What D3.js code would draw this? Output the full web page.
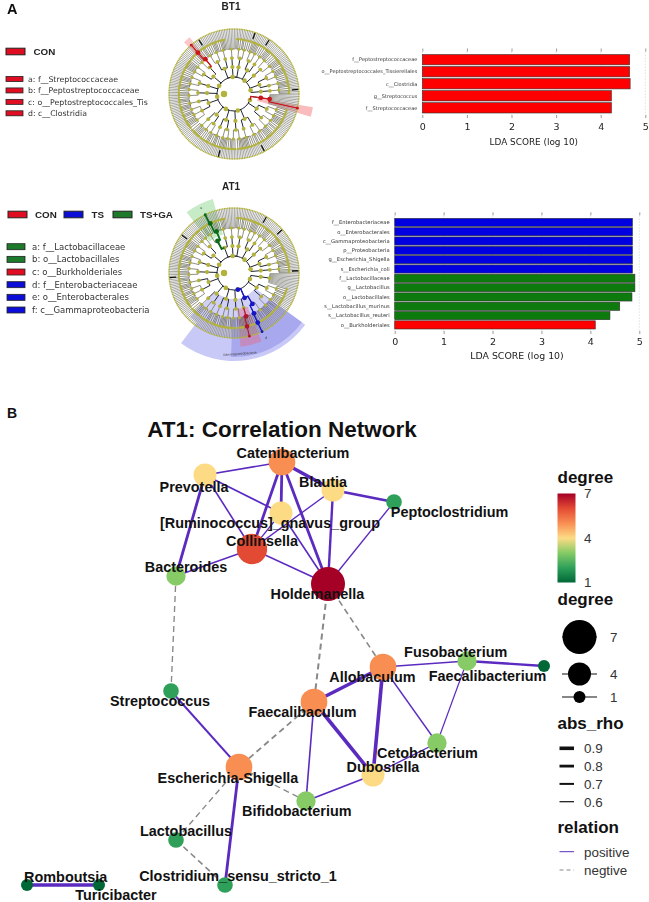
<!DOCTYPE html>
<html>
<head>
<meta charset="utf-8">
<script src="https://cdn.jsdelivr.net/npm/d3@7"></script>
<style>
  html, body { margin: 0; padding: 0; background: #fff; }
  svg { display: block; }
  text { font-family: "Liberation Sans", Arial, sans-serif; }
  .mpl text, text.mpl { font-family: "DejaVu Sans", sans-serif; }
</style>
</head>
<body>
<svg id="chart" width="649" height="902"></svg>
<script>
// panel A, LDA bars
const bt1Taxa = ["f__Peptostreptococcaceae", "o__Peptostreptococcales_Tissierellales", "c__Clostridia", "g__Streptococcus", "f__Streptococcaceae"];
const bt1Scores = [4.65, 4.65, 4.66, 4.24, 4.24];
const bt1Groups = ["CON", "CON", "CON", "CON", "CON"];

const at1Taxa = ["f__Enterobacteriaceae", "o__Enterobacterales", "c__Gammaproteobacteria", "p__Proteobacteria", "g__Escherichia_Shigella", "s__Escherichia_coli",
  "f__Lactobacillaceae", "g__Lactobacillus", "o__Lactobacillales", "s__Lactobacillus_murinus", "s__Lactobacillus_reuteri", "o__Burkholderiales"];
const at1Scores = [4.86, 4.86, 4.86, 4.86, 4.86, 4.86, 4.91, 4.91, 4.85, 4.6, 4.4, 4.1];
const at1Groups = ["TS", "TS", "TS", "TS", "TS", "TS", "TS+GA", "TS+GA", "TS+GA", "TS+GA", "TS+GA", "CON"];

const ldaTicks = [0, 1, 2, 3, 4, 5];

// panel A, cladogram legends
const bt1CladeKeys = ["a: f__Streptococcaceae", "b: f__Peptostreptococcaceae", "c: o__Peptostreptococcales_Tis", "d: c__Clostridia"];
const bt1CladeGroups = ["CON", "CON", "CON", "CON"];
const at1CladeKeys = ["a: f__Lactobacillaceae", "b: o__Lactobacillales", "c: o__Burkholderiales", "d: f__Enterobacteriaceae", "e: o__Enterobacterales", "f: c__Gammaproteobacteria"];
const at1CladeGroups = ["TS+GA", "TS+GA", "CON", "TS", "TS", "TS"];

// taxonomy of the cladogram: nested arrays, a number is a clade with that many leaf taxa
const cladeTree = [
  [[11], [[[1, 2, 1, 1], [2, 1, 1, 1, 1]], [[1, 1, 2, 1], [1, 2, 1, 1, 1, 1]]]],
  [[[[1, 1, 2, 1, 1], [2, 1, 1, 2]], [[1, 2, 1, 1, 1, 1, 1]]], [[[1, 1, 1, 2], [2, 1, 1]]]],
  [[[[1, 2, 1, 1, 1], [1, 1, 1]], [[2, 1, 1, 1, 2, 1]]], [[[1, 1, 2], [1, 2, 1, 1]], [[1, 1, 1, 1, 2]]]],
  [[[[2, 1, 1, 1], [1, 1, 2, 1, 1], [1, 2, 1]], [[1, 1, 1, 2, 1, 1]]], [[[1, 2, 1, 1, 1], [2, 1, 1]]]],
  [[[[1, 1, 2, 1, 1, 1], [1, 2, 1]]], [[[2, 1, 1, 1, 1], [1, 1, 1, 2]], [[1, 2, 1, 1], [1, 1, 2]]]],
  [[[[1, 1, 1, 2, 1], [2, 1, 1, 1]], [[1, 2, 1, 1, 1, 1]]], [[8]], [[[1, 1, 2, 1], [1, 2, 1]]]],
  [[[[2, 1, 1, 1, 1], [1, 1, 2]], [[1, 2, 1, 1]]], [[[1, 1, 1, 2, 1], [2, 1, 1, 1, 1]]]],
  [[[[1, 2, 1, 1], [1, 1, 1, 2, 1]], [[2, 1, 1, 1]]], [[[1, 1, 2, 1, 1, 1]]]]
];

// panel B, network
const genera = ["Catenibacterium", "Prevotella", "Blautia", "Peptoclostridium", "[Ruminococcus]_gnavus_group", "Collinsella", "Bacteroides", "Holdemanella",
  "Allobaculum", "Fusobacterium", "Faecalibacterium", "Streptococcus", "Faecalibaculum", "Cetobacterium", "Dubosiella", "Escherichia-Shigella",
  "Bifidobacterium", "Lactobacillus", "Clostridium_sensu_stricto_1", "Romboutsia", "Turicibacter"];
const layoutX = [255, 178, 306, 367, 254, 225, 149, 301, 356, 440, 517, 144, 287, 410, 346, 212, 279, 149, 198, 0, 72];
const layoutY = [423, 410, 395, 383, 372, 336, 309, 301, 218, 224, 219, 194, 183, 142, 110, 118, 84, 45, 0, 0, 0];

const edgeFrom = ["Prevotella", "Prevotella", "Prevotella", "Prevotella", "Catenibacterium", "Catenibacterium", "Catenibacterium", "Catenibacterium",
  "Blautia", "Blautia", "Blautia", "Peptoclostridium", "[Ruminococcus]_gnavus_group", "[Ruminococcus]_gnavus_group", "Collinsella", "Collinsella",
  "Bacteroides", "Holdemanella", "Holdemanella", "Allobaculum", "Allobaculum", "Allobaculum", "Allobaculum", "Fusobacterium", "Fusobacterium",
  "Cetobacterium", "Faecalibaculum", "Faecalibaculum", "Faecalibaculum", "Dubosiella", "Streptococcus", "Escherichia-Shigella", "Escherichia-Shigella", "Escherichia-Shigella", "Lactobacillus", "Romboutsia"];
const edgeTo = ["Catenibacterium", "Bacteroides", "Collinsella", "[Ruminococcus]_gnavus_group", "Blautia", "[Ruminococcus]_gnavus_group", "Collinsella", "Holdemanella",
  "Peptoclostridium", "Holdemanella", "Collinsella", "Holdemanella", "Holdemanella", "Collinsella", "Holdemanella", "Bacteroides",
  "Streptococcus", "Faecalibaculum", "Allobaculum", "Faecalibaculum", "Dubosiella", "Cetobacterium", "Fusobacterium", "Faecalibacterium", "Cetobacterium",
  "Dubosiella", "Dubosiella", "Bifidobacterium", "Escherichia-Shigella", "Bifidobacterium", "Escherichia-Shigella", "Bifidobacterium", "Lactobacillus", "Clostridium_sensu_stricto_1", "Clostridium_sensu_stricto_1", "Turicibacter"];
const edgeRho = [0.65, 0.8, 0.65, 0.65, 0.9, 0.8, 0.8, 0.8,
  0.8, 0.75, 0.62, 0.62, 0.65, 0.62, 0.65, 0.62,
  0.62, 0.7, 0.65, 0.9, 0.9, 0.62, 0.65, 0.75, 0.6,
  0.62, 0.9, 0.65, 0.68, 0.68, 0.7, 0.6, 0.62, 0.8, 0.65, 0.9];
const edgeRelation = ["positive", "positive", "positive", "positive", "positive", "positive", "positive", "positive",
  "positive", "positive", "positive", "positive", "positive", "positive", "positive", "positive",
  "negtive", "negtive", "negtive", "positive", "positive", "positive", "positive", "positive", "positive",
  "positive", "positive", "positive", "negtive", "positive", "positive", "negtive", "negtive", "positive", "negtive", "positive"];

const degreeLevels = [1, 2, 3, 4, 5, 6, 7];
const degreeColors = ["#006837", "#2fa05a", "#86cb66", "#fddb85", "#f98e52", "#e34a33", "#a50026"];
const sizeLegend = [7, 4, 1];
const rhoLegend = [0.9, 0.8, 0.7, 0.6];
const relationLegend = ["positive", "negtive"];

const svg = d3.select("#chart");
const groupColor = d3.scaleOrdinal().domain(["CON", "TS", "TS+GA"]).range(["#ff0000", "#0000e0", "#0a7a0a"]);
const swatchColor = d3.scaleOrdinal().domain(["CON", "TS", "TS+GA"]).range(["#e01020", "#0a10d8", "#1a7a2a"]);

// soft edges, the panel A artwork is a small raster in the source
const defs = svg.append("defs");
defs.append("filter").attr("id", "soft").append("feGaussianBlur").attr("stdDeviation", 0.45);
defs.append("filter").attr("id", "softer").append("feGaussianBlur").attr("stdDeviation", 0.2);

const panelA = svg.append("g").attr("filter", "url(#softer)");
const panelB = svg.append("g");

function drawLdaBars(taxa, scores, groups, box) {
  const x = d3.scaleLinear().domain([0, 5]).range([box.x0, box.x1]);
  const y = d3.scaleBand().domain(taxa).range([box.y0, box.y1]).paddingInner(box.pad);
  const g = panelA.append("g").attr("class", "mpl");

  g.append("g").selectAll("line").data(ldaTicks).join("line")
    .attr("x1", d => x(d)).attr("x2", d => x(d))
    .attr("y1", box.y0 - 3).attr("y2", box.y1 + 2)
    .attr("stroke", "#ccc").attr("stroke-width", 0.6).attr("stroke-dasharray", "1.5,1.5");

  g.append("g").selectAll("rect").data(taxa).join("rect")
    .attr("x", x(0))
    .attr("y", d => y(d))
    .attr("width", (d, i) => x(scores[i]) - x(0))
    .attr("height", y.bandwidth())
    .attr("fill", (d, i) => groupColor(groups[i]))
    .attr("stroke", "#333").attr("stroke-width", 0.6);

  g.append("g").selectAll("text").data(taxa).join("text")
    .attr("x", x(0) - 5)
    .attr("y", d => y(d) + y.bandwidth() / 2)
    .attr("dy", "0.35em")
    .attr("text-anchor", "end")
    .attr("font-size", box.labelSize)
    .attr("fill", "#333")
    .text(d => d);

  const top = g.append("g").attr("transform", `translate(0,${box.y0 - 3})`)
    .call(d3.axisTop(x).tickValues(ldaTicks).tickSize(3).tickFormat(""));
  top.select(".domain").remove();
  const bottom = g.append("g").attr("transform", `translate(0,${box.y1 + 2})`)
    .call(d3.axisBottom(x).tickValues(ldaTicks).tickSize(3).tickPadding(box.tickPad).tickFormat(d3.format("d")));
  bottom.select(".domain").remove();
  bottom.selectAll("text").attr("font-size", box.tickSize).attr("fill", "#222").attr("font-family", "DejaVu Sans");
  g.selectAll(".tick line").attr("stroke", "#555").attr("stroke-width", 0.6);

  g.append("text")
    .attr("x", (x(0) + x(5)) / 2)
    .attr("y", box.titleY)
    .attr("text-anchor", "middle")
    .attr("font-size", box.titleSize)
    .attr("fill", "#222")
    .text("LDA SCORE (log 10)");
}

// cladogram
const rings = [10, 17, 27, 36, 45, 55];
const outerRing = 65;
const toRad = Math.PI / 180;

function drawCladogram(cx, cy, opts) {
  const root = d3.hierarchy(cladeTree, d => Array.isArray(d) ? d : (d > 0 ? d3.range(d).map(() => 0) : null));
  d3.cluster().size([360, 1]).separation(() => 1)(root);
  const radius = d => d.children ? rings[d.depth] : outerRing;
  const px = (angle, r) => [cx + r * Math.cos(angle * toRad), cy + r * Math.sin(angle * toRad)];
  const g = panelA.append("g");
  const art = g.append("g").attr("filter", "url(#soft)");

  const sectorArc = d3.arc();
  art.append("g").selectAll("path").data(opts.sectors).join("path")
    .attr("transform", `translate(${cx},${cy})`)
    .attr("fill", d => d.color)
    .attr("fill-opacity", d => d.opacity)
    .attr("d", d => sectorArc({
      innerRadius: d.r0, outerRadius: d.r1,
      startAngle: (d.a0 + 90) * toRad, endAngle: (d.a1 + 90) * toRad
    }));

  const nodes = root.descendants().filter(d => d.depth > 0);

  function linkPath(d) {
    if (d.parent.depth === 0) return "";
    const p = d3.path();
    const pr = radius(d.parent);
    const a = d.parent.x * toRad, b = d.x * toRad;
    p.moveTo(cx + pr * Math.cos(a), cy + pr * Math.sin(a));
    p.arc(cx, cy, pr, a, b, b < a);
    const [ex, ey] = px(d.x, radius(d));
    p.lineTo(ex, ey);
    return p.toString();
  }

  // leaf spokes first, they make the grey band
  art.append("g").selectAll("path").data(nodes.filter(d => !d.children)).join("path")
    .attr("d", linkPath).attr("fill", "none").attr("stroke", "#8a8a84").attr("stroke-width", 0.75);
  art.append("g").selectAll("path").data(nodes.filter(d => d.children && d.depth > 1)).join("path")
    .attr("d", linkPath).attr("fill", "none")
    .attr("stroke", d => d.depth < 4 ? "#1f2433" : "#6a6a5c")
    .attr("stroke-width", d => d.depth < 4 ? 1 : 0.75);

  // innermost ring joining the phyla
  art.append("path")
    .attr("fill", "none").attr("stroke", "#1f2433").attr("stroke-width", 1)
    .attr("d", () => {
      const p = d3.path();
      const kids = root.children;
      const a = kids[0].x * toRad, b = kids[kids.length - 1].x * toRad;
      p.moveTo(cx + rings[1] * Math.cos(a), cy + rings[1] * Math.sin(a));
      p.arc(cx, cy, rings[1], a, b);
      return p.toString();
    });

  art.append("g").selectAll("line").data(opts.darkSpokes).join("line")
    .attr("x1", d => px(d, 58)[0]).attr("y1", d => px(d, 58)[1])
    .attr("x2", d => px(d, outerRing)[0]).attr("y2", d => px(d, outerRing)[1])
    .attr("stroke", "#111").attr("stroke-width", 1.3);

  const dotR = [3.2, 2.3, 2.1, 1.9, 1.6, 1.2, 0.8];
  art.append("g").selectAll("circle").data(root.descendants()).join("circle")
    .attr("cx", d => d.depth === 0 ? cx - rings[0] : px(d.x, radius(d))[0])
    .attr("cy", d => d.depth === 0 ? cy : px(d.x, radius(d))[1])
    .attr("r", d => d.children ? dotR[d.depth] : 0.8)
    .attr("fill", "#b2b23c");

  // biomarker clades, walked from a leaf up the tree
  opts.biomarkers.forEach(mark => {
    const leaf = d3.least(root.leaves(), d => Math.abs(d.x - mark.angle));
    const chain = leaf.ancestors().filter(d => d.depth > mark.fromDepth);
    art.append("g").selectAll("path").data(chain).join("path")
      .attr("d", linkPath).attr("fill", "none").attr("stroke", mark.color).attr("stroke-width", mark.width);
    art.append("g").selectAll("circle").data(chain).join("circle")
      .attr("cx", d => px(d.x, radius(d))[0])
      .attr("cy", d => px(d.x, radius(d))[1])
      .attr("r", d => d.children ? 2.4 : 1.4)
      .attr("fill", mark.color);
  });

  // sector letters and the one readable clade name
  g.append("g").selectAll("text").data(opts.tags).join("text")
    .attr("transform", d => {
      const [tx, ty] = px(d.angle, d.r);
      return `translate(${tx},${ty}) rotate(${d.rotate || 0})`;
    })
    .attr("text-anchor", "middle")
    .attr("font-size", d => d.size)
    .attr("fill", "#444")
    .text(d => d.text);
}

function drawKeyRows(keys, groups, o) {
  const g = panelA.append("g");
  const y = d3.scalePoint().domain(keys).range([o.y0, o.y1]);
  g.selectAll("rect").data(keys).join("rect")
    .attr("x", o.x).attr("y", d => y(d) - o.h / 2)
    .attr("width", o.w).attr("height", o.h)
    .attr("fill", (d, i) => swatchColor(groups[i]))
    .attr("stroke", "#222").attr("stroke-width", 0.8);
  g.selectAll("text").data(keys).join("text")
    .attr("class", "mpl")
    .attr("x", o.x + o.w + o.gap).attr("y", d => y(d))
    .attr("dy", "0.35em")
    .attr("font-size", o.size)
    .attr("fill", "#333")
    .text(d => d);
}

function drawGroupKey(items, y) {
  const g = panelA.append("g");
  items.forEach(it => {
    g.append("rect").attr("x", it.x).attr("y", y - 3.3).attr("width", 19).attr("height", 6.6)
      .attr("fill", swatchColor(it.name)).attr("stroke", "#222").attr("stroke-width", 1);
    g.append("text").attr("x", it.tx).attr("y", y).attr("dy", "0.36em")
      .attr("font-size", 9.8).attr("font-weight", "bold").attr("fill", "#222").text(it.name);
  });
}

panelA.append("text").attr("x", 7).attr("y", 14).attr("font-size", 14.5).attr("font-weight", "bold").attr("fill", "#111").text("A");
panelA.append("text").attr("x", 231).attr("y", 10).attr("text-anchor", "middle").attr("font-size", 10).attr("font-weight", "bold").attr("fill", "#222").text("BT1");
panelA.append("text").attr("x", 231).attr("y", 189.5).attr("text-anchor", "middle").attr("font-size", 10).attr("font-weight", "bold").attr("fill", "#222").text("AT1");

drawGroupKey([{ name: "CON", x: 6, tx: 33.5 }], 51.5);
drawKeyRows(bt1CladeKeys, bt1CladeGroups, { x: 6, w: 17, h: 5, gap: 5, y0: 79, y1: 113.3, size: 7.8 });
drawGroupKey([{ name: "CON", x: 8, tx: 35 }, { name: "TS", x: 64, tx: 91.5 }, { name: "TS+GA", x: 113, tx: 140 }], 214.5);
drawKeyRows(at1CladeKeys, at1CladeGroups, { x: 7, w: 18, h: 6, gap: 7, y0: 246.7, y1: 310, size: 8.5 });

drawCladogram(234, 94, {
  sectors: [
    { a0: 9.5, a1: 16.5, r0: 24, r1: 80, color: "#f06060", opacity: 0.42 },
    { a0: 226, a1: 232, r0: 44, r1: 72, color: "#f06060", opacity: 0.35 }
  ],
  darkSpokes: [237, 289, 303, 356, 62, 104],
  biomarkers: [
    { angle: 13, color: "#c8141c", width: 1.3, fromDepth: 1 },
    { angle: 229, color: "#c8141c", width: 1.3, fromDepth: 3 }
  ],
  tags: []
});

drawCladogram(234, 273, {
  sectors: [
    { a0: 36, a1: 127, r0: 62, r1: 88, color: "#b4b4f4", opacity: 0.72 },
    { a0: 36, a1: 135, r0: 26, r1: 62, color: "#b4b4f4", opacity: 0.62 },
    { a0: 36, a1: 92, r0: 44, r1: 84, color: "#8888e8", opacity: 0.5 },
    { a0: 68, a1: 85, r0: 36, r1: 74, color: "#e46a8a", opacity: 0.45 },
    { a0: 232, a1: 254, r0: 40, r1: 77, color: "#90d890", opacity: 0.5 }
  ],
  darkSpokes: [300, 358, 176, 216, 318],
  biomarkers: [
    { angle: 65, color: "#1414c8", width: 1.3, fromDepth: 0 },
    { angle: 77, color: "#b01830", width: 1.2, fromDepth: 3 },
    { angle: 243, color: "#0d6a1a", width: 1.8, fromDepth: 2 }
  ],
  tags: [
    { text: "Gammaproteobacteria", angle: 86, r: 82, size: 3.4, rotate: -4 },
    { text: "d", angle: 64, r: 73, size: 3.6 },
    { text: "a", angle: 243, r: 72, size: 3.6 }
  ]
});

drawLdaBars(bt1Taxa, bt1Scores, bt1Groups, { x0: 422.3, x1: 645.3, y0: 54.5, y1: 113, pad: 0.14, labelSize: 5, tickSize: 9.5, tickPad: 5, titleY: 144.5, titleSize: 8.9 });
drawLdaBars(at1Taxa, at1Scores, at1Groups, { x0: 394.7, x1: 639.3, y0: 218.3, y1: 329, pad: 0.12, labelSize: 5.2, tickSize: 9.5, tickPad: 4, titleY: 358.5, titleSize: 9.4 });

// panel B
panelB.append("text").attr("x", 7).attr("y", 418).attr("font-size", 14).attr("font-weight", "bold").attr("fill", "#111").text("B");
panelB.append("text").attr("x", 282).attr("y", 437).attr("text-anchor", "middle").attr("font-size", 22.5).attr("font-weight", "bold").attr("fill", "#111").text("AT1: Correlation Network");

const netX = d3.scaleLinear().domain([0, 517]).range([27, 544]);
const netY = d3.scaleLinear().domain([0, 423]).range([885, 462]);
const nodeSize = d3.scaleLinear().domain([1, 7]).range([6, 17]);
const nodeColor = d3.scaleLinear().domain(degreeLevels).range(degreeColors);
const rhoWidth = d3.scaleLinear().domain([0.6, 0.9]).range([1.2, 3.6]);

const edges = edgeFrom.map((source, i) => ({ source, target: edgeTo[i], rho: edgeRho[i], relation: edgeRelation[i] }));
const nodes = genera.map((name, i) => ({
  name,
  x: netX(layoutX[i]),
  y: netY(layoutY[i]),
  degree: edges.filter(e => e.source === name || e.target === name).length
}));
const byName = new Map(nodes.map(d => [d.name, d]));

const relationStroke = { positive: "#5b2bc0", negtive: "#888888" };
const relationDash = { positive: null, negtive: "6,4" };

panelB.append("g").selectAll("line").data(edges).join("line")
  .attr("x1", d => byName.get(d.source).x)
  .attr("y1", d => byName.get(d.source).y)
  .attr("x2", d => byName.get(d.target).x)
  .attr("y2", d => byName.get(d.target).y)
  .attr("stroke", d => relationStroke[d.relation])
  .attr("stroke-dasharray", d => relationDash[d.relation])
  .attr("stroke-width", d => rhoWidth(d.rho));

panelB.append("g").selectAll("circle").data(nodes).join("circle")
  .attr("cx", d => d.x)
  .attr("cy", d => d.y)
  .attr("r", d => nodeSize(d.degree))
  .attr("fill", d => nodeColor(d.degree));

// repel-style label placement, offsets from each node
const labelShift = [[11, -9.3], [-11, 11.7], [-10, -8.3], [55.6, 9.7], [-11, 10.3], [10, -8.3], [10, -9.3], [-10.6, 10.3], [-10.5, 10.3], [-11.3, -9.3], [-56.5, 10],
  [-11, 10.3], [-11.5, 10.3], [-9.5, 10.3], [10, -8.3], [-11, 10.7], [-9.2, 10.3], [10, -9.3], [13, -9], [38.7, -8.3], [17, 10]];

panelB.append("g").selectAll("text").data(nodes).join("text")
  .attr("x", (d, i) => d.x + labelShift[i][0])
  .attr("y", (d, i) => d.y + labelShift[i][1])
  .attr("dy", "0.35em")
  .attr("text-anchor", "middle")
  .attr("font-size", 14.4)
  .attr("font-weight", "bold")
  .attr("fill", "#111")
  .text(d => d.name);

// legends
function legendTitle(text, y) {
  panelB.append("text").attr("x", 557.5).attr("y", y).attr("dy", "0.35em")
    .attr("font-size", 17).attr("font-weight", "bold").attr("fill", "#111").text(text);
}
function legendLabel(g, text, x, y) {
  g.append("text").attr("x", x).attr("y", y).attr("dy", "0.36em")
    .attr("font-size", 13.4).attr("fill", "#333").text(text);
}

legendTitle("degree", 477);
const barY = d3.scaleLinear().domain([1, 7]).range([582.5, 493.5]);
const grad = defs.append("linearGradient").attr("id", "degreeBar").attr("x1", 0).attr("x2", 0).attr("y1", 1).attr("y2", 0);
grad.selectAll("stop").data(degreeLevels).join("stop")
  .attr("offset", d => (d - 1) / 6)
  .attr("stop-color", d => nodeColor(d));
panelB.append("rect").attr("x", 557.5).attr("y", barY(7)).attr("width", 18).attr("height", barY(1) - barY(7)).attr("fill", "url(#degreeBar)");
[7, 4, 1].forEach(d => legendLabel(panelB, d, 584, barY(d)));

legendTitle("degree", 599);
const sizeRowY = d3.scaleOrdinal().domain(sizeLegend).range([637, 674, 697]);
sizeLegend.forEach(d => {
  panelB.append("line").attr("x1", 562).attr("x2", 597).attr("y1", sizeRowY(d)).attr("y2", sizeRowY(d)).attr("stroke", "#111").attr("stroke-width", 1.1);
  panelB.append("circle").attr("cx", 579.5).attr("cy", sizeRowY(d)).attr("r", nodeSize(d)).attr("fill", "#000");
  legendLabel(panelB, d, 610, sizeRowY(d));
});

legendTitle("abs_rho", 723);
const rhoRowY = d3.scalePoint().domain(rhoLegend).range([748.3, 801.7]);
rhoLegend.forEach(d => {
  panelB.append("line").attr("x1", 559.5).attr("x2", 574).attr("y1", rhoRowY(d)).attr("y2", rhoRowY(d)).attr("stroke", "#111").attr("stroke-width", rhoWidth(d));
  legendLabel(panelB, d.toFixed(1), 584, rhoRowY(d));
});

legendTitle("relation", 827);
const relRowY = d3.scalePoint().domain(relationLegend).range([851.7, 870]);
relationLegend.forEach(d => {
  panelB.append("line").attr("x1", 559.5).attr("x2", 574).attr("y1", relRowY(d)).attr("y2", relRowY(d))
    .attr("stroke", relationStroke[d]).attr("stroke-width", 1).attr("stroke-dasharray", d === "negtive" ? "4,3" : null);
  legendLabel(panelB, d, 584, relRowY(d));
});
</script>
</body>
</html>
